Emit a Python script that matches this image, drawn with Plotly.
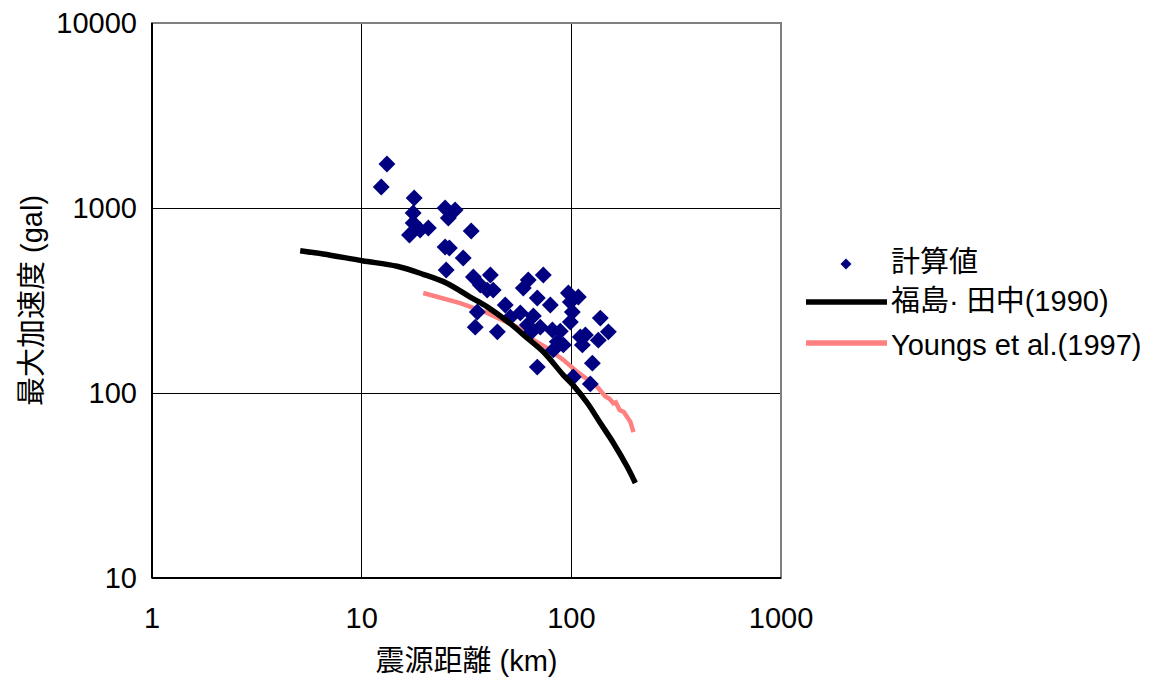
import plotly.graph_objects as go

# ---- data ----
calc_dist = [13.2, 12.4, 17.8, 17.6, 17.6, 16.9, 20.8, 19.0, 25.0, 27.9, 25.9, 33.3,
             25.0, 26.2, 30.5, 25.3, 34.1, 41.1, 36.8, 39.7, 42.4, 48.4, 35.6, 51.2,
             34.8, 44.4, 62.3, 73.5, 59.0, 68.8, 79.4, 57.1, 65.9, 61.7, 71.1, 63.7,
             81.2, 96.8, 108.0, 98.9, 101.1, 137.5, 98.9, 88.6, 116.7, 110.4, 112.9,
             150.2, 134.5, 82.1, 91.6, 85.7, 126.0, 102.2, 123.2, 68.8]
calc_pga = [1729, 1299, 1133, 940, 830, 715, 780, 760, 1000, 975, 883, 751,
            615, 608, 537, 462, 424, 434, 383, 360, 360, 299, 274, 257,
            227, 214, 408, 434, 369, 326, 299, 271, 261, 233, 227, 211,
            219, 347, 330, 310, 274, 254, 242, 216, 206, 201, 182,
            214, 193, 171, 182, 189, 145, 122, 112, 138]

fuku_dist = [5.09, 6.55, 10.05, 14.77, 19.66, 25.6, 32.95, 39.7, 50.0, 61.7, 73.5,
             91.6, 102.2, 119.2, 137.5, 158.7, 185.0, 202.0]
fuku_pga = [588, 564, 519, 484, 438, 391, 330, 292, 242, 198, 167,
            125, 110, 88.3, 68.8, 53.7, 39.8, 32.6]

youngs_dist = [19.66, 29.5, 39.7, 55.2, 63.7, 76.8, 91.6, 106.8, 133.0, 145.0, 152.0,
               158.7, 163.0, 170.0, 178.0, 185.0, 191.0, 198.0]
youngs_pga = [347, 306, 271, 227, 198, 175, 151, 130, 108, 96, 93,
              88, 89, 81, 79, 74, 70, 61.5]

x_ticks = [1, 10, 100, 1000]
x_labels = ["1", "10", "100", "1000"]
y_ticks = [10, 100, 1000, 10000]
y_labels = ["10", "100", "1000", "10000"]

legend_names = ["計算値", "福島· 田中(1990)", "Youngs et al.(1997)"]
y_title = "最大加速度 (gal)"
x_title = "震源距離 (km)"

FONT = "Liberation Sans, Arial, Noto Sans CJK JP, sans-serif"
NAVY = "#000080"
PINK = "#FF8080"

fig = go.Figure()
fig.add_trace(go.Scatter(x=youngs_dist, y=youngs_pga, mode="lines",
                         line=dict(color=PINK, width=4.5), name=legend_names[2],
                         showlegend=False))
fig.add_trace(go.Scatter(x=calc_dist, y=calc_pga, mode="markers",
                         marker=dict(symbol="diamond", size=13, color=NAVY,
                                     line=dict(width=0)),
                         name=legend_names[0], showlegend=False))
fig.add_trace(go.Scatter(x=fuku_dist, y=fuku_pga, mode="lines",
                         line=dict(color="black", width=5.5, shape="spline"),
                         name=legend_names[1], showlegend=False))

# page offset of the plot div (browser body margin)
OX, OY = 8, 8
W, H = 1150, 684
# target plot area in screen pixels
SL, ST, SR, SB = 152, 23, 781, 578
L, T = SL - OX, ST - OY
pw, ph = SR - SL, SB - ST
R = W - L - pw
B = H - T - ph


def px(xp):
    return (xp - SL) / pw


def py(yp):
    return (SB - yp) / ph


shapes = [
    dict(type="rect", xref="paper", yref="paper", x0=0, x1=1, y0=0, y1=1,
         line=dict(color="#808080", width=2), layer="above"),
    dict(type="line", xref="paper", yref="paper", x0=0, x1=0, y0=0, y1=1,
         line=dict(color="black", width=2), layer="above"),
    dict(type="line", xref="paper", yref="paper", x0=0, x1=1, y0=0, y1=0,
         line=dict(color="black", width=2), layer="above"),
    # legend samples
    dict(type="line", xref="paper", yref="paper", x0=px(806), x1=px(887),
         y0=py(302), y1=py(302), line=dict(color="black", width=5.5)),
    dict(type="line", xref="paper", yref="paper", x0=px(806), x1=px(887),
         y0=py(343), y1=py(343), line=dict(color=PINK, width=5.5)),
]
cx, cy, d = 846, 264, 5.5
shapes.append(dict(type="path", xref="paper", yref="paper",
                   path=f"M {px(cx-d)} {py(cy)} L {px(cx)} {py(cy-d)} L {px(cx+d)} {py(cy)} "
                        f"L {px(cx)} {py(cy+d)} Z",
                   fillcolor=NAVY, line=dict(width=0)))

annotations = []
for name, yy in zip(legend_names, [262, 301, 345]):
    annotations.append(dict(text=name, xref="paper", yref="paper", x=px(889), y=py(yy),
                            xanchor="left", yanchor="middle", showarrow=False,
                            font=dict(size=29, color="black", family=FONT)))
annotations.append(dict(text=y_title, xref="paper", yref="paper", x=px(32), y=py(300),
                        xanchor="center", yanchor="middle", textangle=-90,
                        showarrow=False, font=dict(size=29, color="black", family=FONT)))

fig.update_layout(
    width=W, height=H,
    margin=dict(l=L, r=R, t=T, b=B, autoexpand=False),
    paper_bgcolor="white", plot_bgcolor="white",
    font=dict(family=FONT, size=29, color="black"),
    shapes=shapes, annotations=annotations,
    showlegend=False,
)
fig.update_xaxes(type="log", range=[0, 3], tickvals=x_ticks, ticktext=x_labels,
                 showgrid=True, gridcolor="black", gridwidth=1, zeroline=False,
                 showline=False, ticks="", ticklabelstandoff=20, automargin=False,
                 title=dict(text=x_title, font=dict(size=29), standoff=17))
fig.update_yaxes(type="log", range=[1, 4], tickvals=y_ticks, ticktext=y_labels,
                 showgrid=True, gridcolor="black", gridwidth=1, zeroline=False,
                 showline=False, ticks="", ticklabelstandoff=14, automargin=False,
                 ticklabeloverflow="allow")

fig.write_html("out.html")
